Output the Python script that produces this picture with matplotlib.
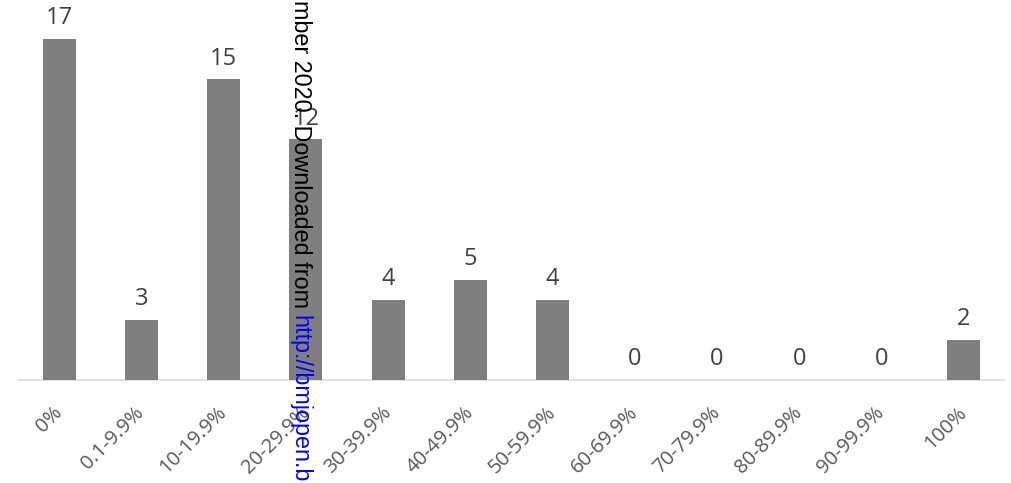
import matplotlib
matplotlib.use("Agg")
import matplotlib.pyplot as plt

categories = ["0%", "0.1-9.9%", "10-19.9%", "20-29.9%", "30-39.9%", "40-49.9%",
              "50-59.9%", "60-69.9%", "70-79.9%", "80-89.9%", "90-99.9%", "100%"]
values = [17, 3, 15, 12, 4, 5, 4, 0, 0, 0, 0, 2]

W, H = 1012, 483
fig = plt.figure(figsize=(W / 100, H / 100), dpi=100)
ax = fig.add_axes([18 / W, (H - 380) / H, 987 / W, 361 / H])

x = list(range(len(categories)))
bars = ax.bar(x, values, width=0.40, color="#7F7F7F", zorder=2)
ax.set_xlim(-0.5, len(categories) - 0.5)
ax.set_ylim(0, 18)

for xi, v in zip(x, values):
    ax.annotate(str(v), (xi, v), xytext=(0, 10.5), textcoords="offset points",
                ha="center", va="baseline", fontsize=17, color="#404040",
                family=["Open Sans", "DejaVu Sans"], zorder=3)

ax.set_xticks(x)
ax.set_xticklabels(categories, rotation=45, ha="right", va="center",
                   rotation_mode="anchor", fontsize=14.5, color="#595959",
                   family=["Open Sans", "DejaVu Sans"])
ax.tick_params(axis="x", length=0, pad=21.5)
ax.set_yticks([])
for s in ["left", "right", "top"]:
    ax.spines[s].set_visible(False)
ax.spines["bottom"].set_color("#D9D9D9")
ax.spines["bottom"].set_linewidth(1.1)
ax.spines["bottom"].set_zorder(1)

# vertical watermark text
xb = 293.5 / W
fig.text(xb, 1 - 308 / H, "mber 2020. Downloaded from", rotation=-90,
         rotation_mode="anchor", ha="right", va="baseline", fontsize=16.8,
         color="black", family=["Liberation Sans", "DejaVu Sans"], zorder=10)
fig.text(xb, 1 - 315 / H, "http://bmjopen.bmj.com/", rotation=-90,
         rotation_mode="anchor", ha="left", va="baseline", fontsize=16.8,
         color="#0000FF", family=["Liberation Sans", "DejaVu Sans"], zorder=10)

fig.savefig("out.png", dpi=100)
